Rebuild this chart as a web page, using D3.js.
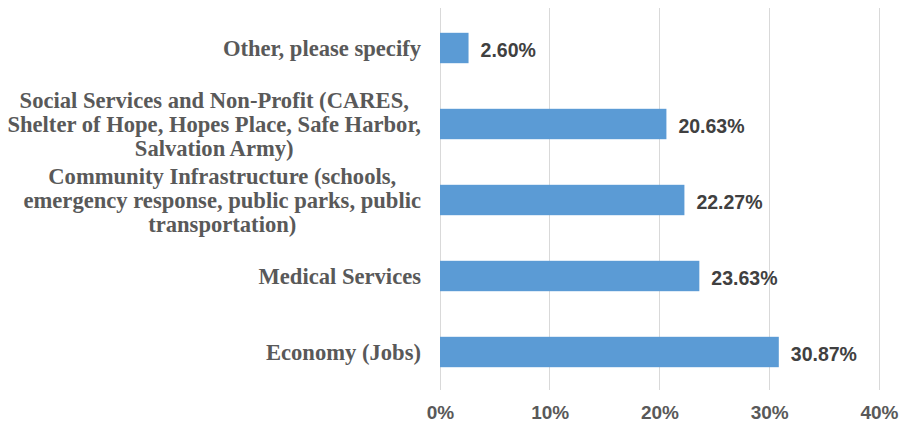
<!DOCTYPE html>
<html>
<head>
<meta charset="utf-8">
<script src="https://cdn.jsdelivr.net/npm/d3@7"></script>
<style>
  html, body { margin: 0; padding: 0; background: #fff; }
  svg { display: block; }
</style>
</head>
<body>
<svg id="chart" width="903" height="428"></svg>
<script>
// Categories, listed top to bottom, each split into display lines
const categories = [
  "Other, please specify",
  "Social Services and Non-Profit (CARES, Shelter of Hope, Hopes Place, Safe Harbor, Salvation Army)",
  "Community Infrastructure (schools, emergency response, public parks, public transportation)",
  "Medical Services",
  "Economy (Jobs)"
];
const categoryLines = [
  ["Other, please specify"],
  ["Social Services and Non-Profit (CARES,", "Shelter of Hope, Hopes Place, Safe Harbor,", "Salvation Army)"],
  ["Community Infrastructure (schools,", "emergency response, public parks, public", "transportation)"],
  ["Medical Services"],
  ["Economy (Jobs)"]
];
const values = [2.60, 20.63, 22.27, 23.63, 30.87];
const xTicks = [0, 10, 20, 30, 40];

const svg = d3.select("#chart");
const margin = { left: 440, right: 24, top: 10, bottom: 38 };
const W = 903, H = 428;

const x = d3.scaleLinear().domain([0, 40]).range([margin.left, W - margin.right]);
const y = d3.scaleBand().domain(categories).range([margin.top, H - margin.bottom]).paddingInner(0.6).paddingOuter(0.3);

// Vertical gridlines
svg.append("g")
  .selectAll("line")
  .data(xTicks)
  .join("line")
  .attr("x1", d => x(d)).attr("x2", d => x(d))
  .attr("y1", margin.top - 2).attr("y2", H - margin.bottom)
  .attr("stroke", "#d9d9d9").attr("stroke-width", 1)
  .attr("shape-rendering", "crispEdges");

// X axis tick labels
const xAxis = d3.axisBottom(x).tickValues(xTicks).tickFormat(d => d + "%").tickSize(0).tickPadding(0);
const gx = svg.append("g").attr("transform", `translate(0, ${H - margin.bottom + 15})`).call(xAxis);
gx.select(".domain").remove();
gx.selectAll("text")
  .attr("dy", "0.71em")
  .attr("font-family", "'Liberation Sans', Arial, sans-serif")
  .attr("font-weight", "bold")
  .attr("font-size", 19)
  .attr("fill", "#595959");

// Bars
svg.append("g")
  .selectAll("rect")
  .data(values)
  .join("rect")
  .attr("x", x(0))
  .attr("y", (d, i) => y(categories[i]))
  .attr("width", d => x(d) - x(0))
  .attr("height", y.bandwidth())
  .attr("fill", "#5b9bd5");

// Value labels
svg.append("g")
  .selectAll("text")
  .data(values)
  .join("text")
  .attr("x", d => x(d) + 12)
  .attr("y", (d, i) => y(categories[i]) + y.bandwidth() / 2 + 2)
  .attr("dominant-baseline", "central")
  .attr("font-family", "'Liberation Sans', Arial, sans-serif")
  .attr("font-weight", "bold")
  .attr("font-size", 19.5)
  .attr("fill", "#404040")
  .text(d => d.toFixed(2) + "%");

// Category labels: multi-line blocks, lines centered within the block,
// block right-aligned just left of the plot
const lineH = 24;
const labels = svg.append("g")
  .selectAll("text")
  .data(categories)
  .join("text")
  .attr("font-family", "'Liberation Serif', 'Times New Roman', serif")
  .attr("font-weight", "bold")
  .attr("font-size", 22.6)
  .attr("fill", "#595959")
  .attr("text-anchor", "middle");

labels.each(function(d, i) {
  const lines = categoryLines[i];
  const cy = y(d) + y.bandwidth() / 2;
  const top = cy - (lines.length - 1) * lineH / 2;
  const t = d3.select(this);
  lines.forEach((ln, k) => {
    t.append("tspan")
      .attr("y", top + k * lineH)
      .attr("dominant-baseline", "central")
      .text(ln);
  });
  const widths = [];
  t.selectAll("tspan").each(function() { widths.push(this.getComputedTextLength()); });
  const maxW = d3.max(widths);
  const right = 421;
  t.selectAll("tspan").attr("x", right - maxW / 2);
});
</script>
</body>
</html>
